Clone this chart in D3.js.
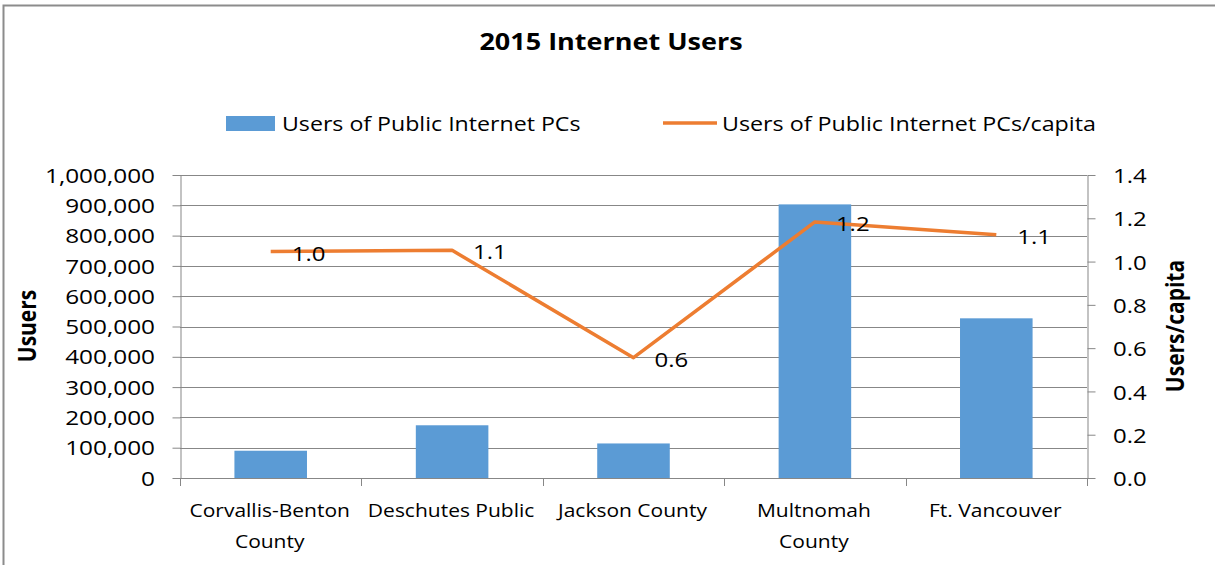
<!DOCTYPE html>
<html>
<head>
<meta charset="utf-8">
<script src="https://cdn.jsdelivr.net/npm/d3@7"></script>
<style>
  html, body { margin: 0; padding: 0; background: #fff; }
  svg { display: block; }
  text { font-family: "Open Sans", "Noto Sans", sans-serif; fill: #000; }
</style>
</head>
<body>
<script>
// ---------- data ----------
const categories = ["Corvallis-Benton County", "Deschutes Public", "Jackson County", "Multnomah County", "Ft. Vancouver"];
const categoryLabels = [["Corvallis-Benton", "County"], ["Deschutes Public"], ["Jackson County"], ["Multnomah", "County"], ["Ft. Vancouver"]];
const users = [90000, 174000, 114000, 903000, 527000];
const usersPerCapita = [1.046, 1.052, 0.556, 1.183, 1.124];
const usersTicks = [0, 100000, 200000, 300000, 400000, 500000, 600000, 700000, 800000, 900000, 1000000];
const perCapitaTicks = [0, 0.2, 0.4, 0.6, 0.8, 1.0, 1.2, 1.4];
const seriesNames = ["Users of Public Internet PCs", "Users of Public Internet PCs/capita"];
const chartTitle = "2015 Internet Users";
const leftAxisTitle = "Usuers";
const rightAxisTitle = "Users/capita";

// ---------- layout ----------
const W = 1215, H = 565;
const plot = { left: 180, right: 1087, top: 175, bottom: 478 };
const K = 1.2; // horizontal stretch of the reference text
const barColor = "#5B9BD5", lineColor = "#ED7D31", gridColor = "#878787";

const svg = d3.select("body").append("svg").attr("width", W).attr("height", H);

// outer border
svg.append("path")
  .attr("d", `M3.5,${H + 5} V5.5 H${W + 5}`)
  .attr("fill", "none").attr("stroke", "#8c8c8c").attr("stroke-width", 2);

const x = d3.scaleBand().domain(categories).range([plot.left, plot.right]).paddingInner(0).paddingOuter(0);
const xBar = d3.scaleBand().domain(categories).range([plot.left, plot.right]).paddingInner(0.6).paddingOuter(0.3);
const yL = d3.scaleLinear().domain([0, 1000000]).range([plot.bottom, plot.top]);
const yR = d3.scaleLinear().domain([0, 1.4]).range([plot.bottom, plot.top]);

function stext(parent, px, py, str, opts = {}) {
  const t = parent.append("text")
    .attr("transform", `translate(${px},${py}) scale(${K},1)`)
    .attr("text-anchor", opts.anchor || "start")
    .style("font-size", (opts.size || 20) + "px")
    .text(str);
  if (opts.bold) t.style("font-weight", "bold");
  if (opts.baseline) t.attr("dominant-baseline", opts.baseline);
  return t;
}

// gridlines
svg.append("g").selectAll("line").data(usersTicks.filter(d => d > 0)).join("line")
  .attr("x1", plot.left).attr("x2", plot.right)
  .attr("y1", d => Math.round(yL(d)) + 0.5).attr("y2", d => Math.round(yL(d)) + 0.5)
  .attr("stroke", gridColor).attr("stroke-width", 1);

// bars
svg.append("g").selectAll("rect").data(users).join("rect")
  .attr("x", (d, i) => xBar(categories[i]))
  .attr("width", xBar.bandwidth())
  .attr("y", d => yL(d))
  .attr("height", d => yL(0) - yL(d))
  .attr("fill", barColor);

// axes (lines and tick marks)
const axisL = svg.append("g").attr("transform", `translate(${plot.left + 0.5},0)`)
  .call(d3.axisLeft(yL).tickValues(usersTicks).tickFormat("").tickSizeInner(8).tickSizeOuter(0));
const axisR = svg.append("g").attr("transform", `translate(${plot.right + 0.5},0)`)
  .call(d3.axisRight(yR).tickValues(perCapitaTicks).tickFormat("").tickSizeInner(8).tickSizeOuter(0));
const bounds = categories.map(c => x(c)).concat([plot.right]);
const axisB = svg.append("g");
axisB.append("line").attr("x1", plot.left).attr("x2", plot.right + 1)
  .attr("y1", plot.bottom + 0.5).attr("y2", plot.bottom + 0.5);
axisB.selectAll("line.tk").data(bounds).join("line").attr("class", "tk")
  .attr("x1", d => Math.round(d) + 0.5).attr("x2", d => Math.round(d) + 0.5)
  .attr("y1", plot.bottom).attr("y2", plot.bottom + 8);
[axisL, axisR].forEach(a => { a.selectAll("path,line").attr("stroke", gridColor).attr("stroke-width", 1); });
axisB.selectAll("line").attr("stroke", gridColor).attr("stroke-width", 1);

// tick labels
const fmtL = d3.format(",");
usersTicks.forEach(v => stext(svg, 155, yL(v), fmtL(v), { anchor: "end", size: 20.3, baseline: "central" }));
const fmtR = d3.format(".1f");
perCapitaTicks.forEach(v => stext(svg, 1113, yR(v), fmtR(v), { anchor: "start", size: 20, baseline: "central" }));

// category labels
categoryLabels.forEach((lines, i) => {
  const cx = x(categories[i]) + x.bandwidth() / 2;
  lines.forEach((ln, j) => stext(svg, cx - 1, 517 + j * 30.5, ln, { anchor: "middle", size: 17.5 }));
});

// line series
const line = d3.line().x((d, i) => x(categories[i]) + x.bandwidth() / 2).y(d => yR(d));
svg.append("path").datum(usersPerCapita).attr("d", line)
  .attr("fill", "none").attr("stroke", lineColor).attr("stroke-width", 3.5)
  .attr("stroke-linejoin", "round");

// data labels
usersPerCapita.forEach((v, i) => {
  const cx = x(categories[i]) + x.bandwidth() / 2;
  stext(svg, cx + 21, yR(v) + 1, fmtR(v), { size: 20, baseline: "central" });
});

// title
stext(svg, 611, 50, chartTitle, { anchor: "middle", size: 22.5, bold: true });

// legend
svg.append("rect").attr("x", 226).attr("y", 116).attr("width", 49).attr("height", 15).attr("fill", barColor);
stext(svg, 282, 123, seriesNames[0], { size: 19.3, baseline: "central" });
svg.append("line").attr("x1", 663).attr("x2", 717).attr("y1", 123).attr("y2", 123)
  .attr("stroke", lineColor).attr("stroke-width", 3.5);
stext(svg, 722, 123, seriesNames[1], { size: 19.4, baseline: "central" });

// axis titles (rotated; stretch across the text height)
svg.append("text")
  .attr("transform", `translate(26,326) rotate(-90) scale(1,${K})`)
  .attr("text-anchor", "middle").attr("dominant-baseline", "central")
  .style("font-size", "21px").style("font-weight", "bold").text(leftAxisTitle);
svg.append("text")
  .attr("transform", `translate(1174,326) rotate(-90) scale(1,${K})`)
  .attr("text-anchor", "middle").attr("dominant-baseline", "central")
  .style("font-size", "21px").style("font-weight", "bold").text(rightAxisTitle);
</script>
</body>
</html>
